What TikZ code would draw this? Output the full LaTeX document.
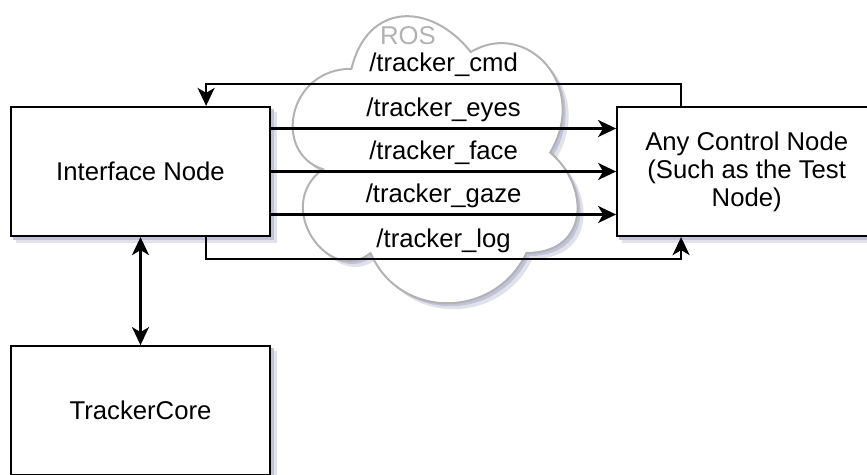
\documentclass[tikz,border=0pt]{standalone}
\usepackage{fontspec}
\setmainfont{Liberation Sans}
\usetikzlibrary{positioning,arrows.meta,backgrounds}
\definecolor{shadowblue}{RGB}{120,120,170}
\definecolor{cloudgray}{RGB}{178,178,178}
% outline of the ROS cloud
\newcommand\rosoutline{(351.5,68.75)
    .. controls (287.9,68.75) and (272,152.5) .. (322.9,169.25)
    .. controls (272,206.1) and (329.2,286.5) .. (370.6,253)
    .. controls (399.2,320) and (494.6,320) .. (526.4,253)
    .. controls (590,253) and (590,186) .. (550.25,152.5)
    .. controls (590,85.5) and (526.4,18.5) .. (470.75,52)
    .. controls (431,1.75) and (367.4,1.75) .. (351.5,68.75) -- cycle}
\begin{document}
\begin{tikzpicture}[x=1pt, y=-1pt,
    every node/.style={font=\fontsize{25.7}{28}\selectfont},
    box/.style={draw, line width=2.2pt, fill=white, minimum width=259pt, minimum height=129pt, align=center},
    flow/.style={line width=2.2pt, -{Stealth[length=18pt, width=17pt, inset=5pt]}},
    topic/.style={anchor=base, yshift=12pt}]
    \useasboundingbox (0,0) rectangle (867,474);

    % ROS cloud behind the topics
    \begin{scope}[shift={(6,6)}]
        \fill[shadowblue!22] \rosoutline;
    \end{scope}
    \begin{scope}[shift={(3,3)}]
        \fill[shadowblue!45] \rosoutline;
    \end{scope}
    \filldraw[draw=cloudgray, fill=white, line width=2pt] \rosoutline;
    \node[text=cloudgray] (ros) at (408,36) {ROS};

    % nodes
    \node[box] (iface) at (140.5,171.5) {Interface Node};
    \node[box, right=345pt of iface] (ctrl) {Any Control Node\\(Such as the Test\\Node)};
    \node[box, below=108pt of iface] (core) {TrackerCore};

    % shadows of the boxes
    \begin{scope}[on background layer]
        \foreach \n in {iface, ctrl, core} {
            \fill[shadowblue!22] ([shift={(6pt,-6pt)}]\n.north west) rectangle ([shift={(6pt,-6pt)}]\n.south east);
            \fill[shadowblue!45] ([shift={(3pt,-3pt)}]\n.north west) rectangle ([shift={(3pt,-3pt)}]\n.south east);
        }
    \end{scope}

    % topics
    \draw[flow] ([xshift=65pt]ctrl.north west) -- ++(0,-22)
        -| node[pos=0.25, topic] (cmd) {/tracker\_cmd} ([xshift=-65pt]iface.north east);
    \draw[flow] ([yshift=43pt]iface.east) -- node[topic] (eyes) {/tracker\_eyes} ([yshift=43pt]ctrl.west);
    \draw[flow] (iface.east) -- node[topic] (face) {/tracker\_face} (ctrl.west);
    \draw[flow] ([yshift=-43pt]iface.east) -- node[topic] (gaze) {/tracker\_gaze} ([yshift=-43pt]ctrl.west);
    \draw[flow] ([xshift=-65pt]iface.south east) -- ++(0,22)
        -| node[pos=0.25, topic] (log) {/tracker\_log} ([xshift=65pt]ctrl.south west);

    \draw[flow, {Stealth[length=18pt, width=17pt, inset=5pt]}-{Stealth[length=18pt, width=17pt, inset=5pt]}] (iface) -- (core);
\end{tikzpicture}
\end{document}
